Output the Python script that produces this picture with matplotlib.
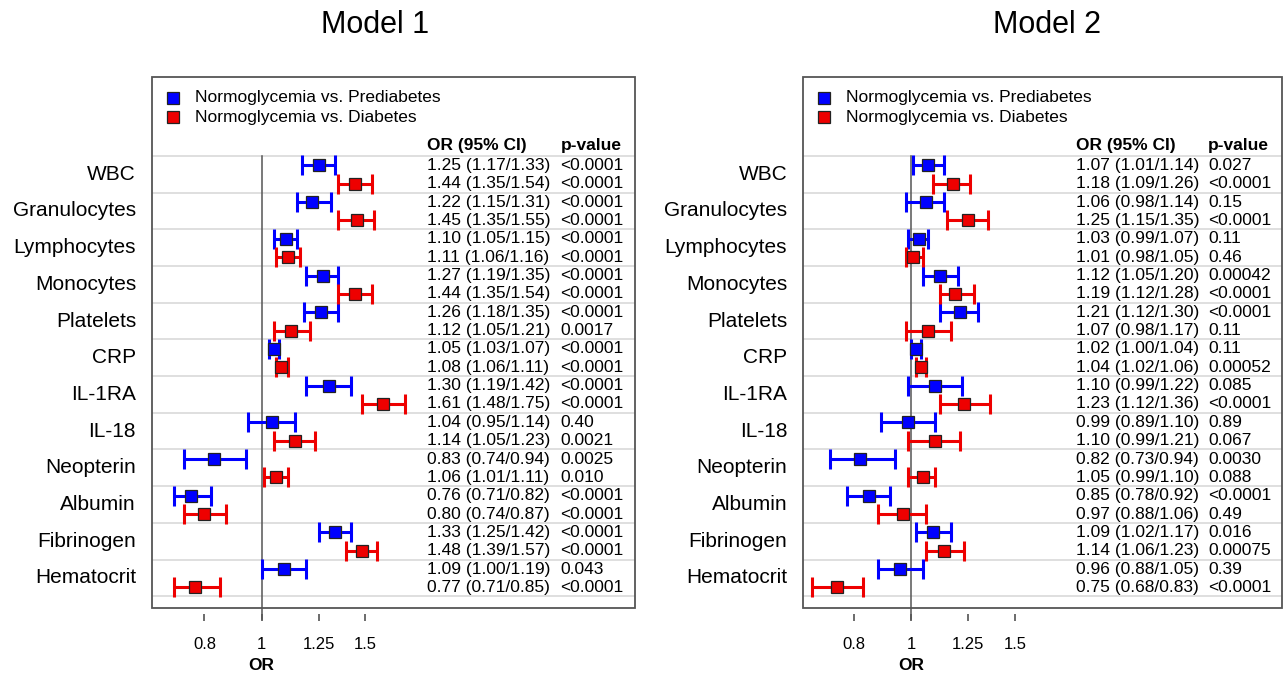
import numpy as np
import matplotlib
matplotlib.use("Agg")
from matplotlib import pyplot as plt
from matplotlib import transforms as mtrans
from matplotlib.patches import Rectangle

plt.rcParams['font.family'] = ['Liberation Sans', 'DejaVu Sans']

markers = ['WBC', 'Granulocytes', 'Lymphocytes', 'Monocytes', 'Platelets', 'CRP',
           'IL-1RA', 'IL-18', 'Neopterin', 'Albumin', 'Fibrinogen', 'Hematocrit']
legend_labels = ['Normoglycemia vs. Prediabetes', 'Normoglycemia vs. Diabetes']
xticks = [0.8, 1, 1.25, 1.5]

# Model 1: prediabetes (blue) / diabetes (red)
m1_pre_or = [1.25, 1.22, 1.10, 1.27, 1.26, 1.05, 1.30, 1.04, 0.83, 0.76, 1.33, 1.09]
m1_pre_lo = [1.17, 1.15, 1.05, 1.19, 1.18, 1.03, 1.19, 0.95, 0.74, 0.71, 1.25, 1.00]
m1_pre_hi = [1.33, 1.31, 1.15, 1.35, 1.35, 1.07, 1.42, 1.14, 0.94, 0.82, 1.42, 1.19]
m1_pre_p = ['<0.0001', '<0.0001', '<0.0001', '<0.0001', '<0.0001', '<0.0001',
            '<0.0001', '0.40', '0.0025', '<0.0001', '<0.0001', '0.043']
m1_dia_or = [1.44, 1.45, 1.11, 1.44, 1.12, 1.08, 1.61, 1.14, 1.06, 0.80, 1.48, 0.77]
m1_dia_lo = [1.35, 1.35, 1.06, 1.35, 1.05, 1.06, 1.48, 1.05, 1.01, 0.74, 1.39, 0.71]
m1_dia_hi = [1.54, 1.55, 1.16, 1.54, 1.21, 1.11, 1.75, 1.23, 1.11, 0.87, 1.57, 0.85]
m1_dia_p = ['<0.0001', '<0.0001', '<0.0001', '<0.0001', '0.0017', '<0.0001',
            '<0.0001', '0.0021', '0.010', '<0.0001', '<0.0001', '<0.0001']

# Model 2
m2_pre_or = [1.07, 1.06, 1.03, 1.12, 1.21, 1.02, 1.10, 0.99, 0.82, 0.85, 1.09, 0.96]
m2_pre_lo = [1.01, 0.98, 0.99, 1.05, 1.12, 1.00, 0.99, 0.89, 0.73, 0.78, 1.02, 0.88]
m2_pre_hi = [1.14, 1.14, 1.07, 1.20, 1.30, 1.04, 1.22, 1.10, 0.94, 0.92, 1.17, 1.05]
m2_pre_p = ['0.027', '0.15', '0.11', '0.00042', '<0.0001', '0.11',
            '0.085', '0.89', '0.0030', '<0.0001', '0.016', '0.39']
m2_dia_or = [1.18, 1.25, 1.01, 1.19, 1.07, 1.04, 1.23, 1.10, 1.05, 0.97, 1.14, 0.75]
m2_dia_lo = [1.09, 1.15, 0.98, 1.12, 0.98, 1.02, 1.12, 0.99, 0.99, 0.88, 1.06, 0.68]
m2_dia_hi = [1.26, 1.35, 1.05, 1.28, 1.17, 1.06, 1.36, 1.21, 1.10, 1.06, 1.23, 0.83]
m2_dia_p = ['<0.0001', '<0.0001', '0.46', '<0.0001', '0.11', '0.00052',
            '<0.0001', '0.067', '0.088', '0.49', '0.00075', '<0.0001']

BLUE = '#0000ff'
RED = '#ee0000'
GRID = '#d6d6d6'
FRAME = '#555555'


def draw_panel(ax, title, title_x, xlim, pre, dia):
    n = len(markers)
    ax.set_xscale('log')
    ax.set_xlim(xlim)
    ax.set_ylim(n + 0.32, -2.15)
    ax.set_yticks([])
    ax.minorticks_off()
    ax.set_xticks(xticks)
    ax.set_xticklabels([f'{t:g}' for t in xticks])
    ax.tick_params(axis='x', direction='out', length=5, width=1.1, color='#444444',
                   pad=12, labelsize=12)
    for s in ax.spines.values():
        s.set_visible(False)
    ax.spines['bottom'].set_position(('outward', 4))
    ax.add_patch(Rectangle((0, 0), 1, 1, transform=ax.transAxes, fill=False,
                           ec=FRAME, lw=1.3, clip_on=False, zorder=5))

    bt = mtrans.blended_transform_factory(ax.transAxes, ax.transData)
    bx = mtrans.blended_transform_factory(ax.transData, ax.transAxes)

    # group separators
    for k in range(n + 1):
        ax.plot([0, 1], [k, k], transform=bt, color=GRID, lw=1.1, zorder=1)
    ax.plot([1, 1], [0, n + 0.62], color='#555555', lw=1.1, zorder=2, clip_on=False)

    for k, name in enumerate(markers):
        ax.text(-0.033, k + 0.5, name, transform=bt, ha='right', va='center', fontsize=15)

    for (orv, lo, hi, pv), col, off in [(pre, BLUE, 0.26), (dia, RED, 0.76)]:
        orv = np.array(orv)
        lo = np.array(lo)
        hi = np.array(hi)
        ys = np.arange(n) + off
        ax.errorbar(orv, ys, xerr=[orv - lo, hi - orv], fmt='none', ecolor=col,
                    elinewidth=2.2, capsize=7, capthick=2.2, zorder=3)
        ax.plot(orv, ys, ls='none', marker='s', ms=8.5, mfc=col, mec='#222222',
                mew=0.9, zorder=4)
        for y, a, b, c, p in zip(ys, orv, lo, hi, pv):
            ax.text(0.569, y, f'{a:.2f} ({b:.2f}/{c:.2f})', transform=bt,
                    ha='left', va='center', fontsize=12.5)
            ax.text(0.846, y, p, transform=bt, ha='left', va='center', fontsize=12.5)

    ax.text(0.569, -0.27, 'OR (95% CI)', transform=bt, ha='left', va='center',
            fontsize=12.5, fontweight='bold')
    ax.text(0.846, -0.27, 'p-value', transform=bt, ha='left', va='center',
            fontsize=12.5, fontweight='bold')

    for lab, col, y in zip(legend_labels, [BLUE, RED], [-1.59, -1.05]):
        ax.plot([0.043], [y], transform=bt, ls='none', marker='s', ms=8, mfc=col,
                mec='#222222', mew=0.9)
        ax.text(0.089, y, lab, transform=bt, ha='left', va='center', fontsize=12.5)

    ax.text(1, -0.109, 'OR', transform=bx, ha='center', va='center',
            fontsize=12.5, fontweight='bold')
    fig.text(title_x, 0.963, title, ha='center', va='center', fontsize=22)


fig = plt.figure(figsize=(12.84, 6.73), dpi=100)
ax1 = fig.add_axes([152 / 1284, 65 / 673, 483 / 1284, 531 / 673])
ax2 = fig.add_axes([803 / 1284, 65 / 673, 479 / 1284, 531 / 673])

draw_panel(ax1, 'Model 1', 375 / 1284, (0.652, 4.30),
           (m1_pre_or, m1_pre_lo, m1_pre_hi, m1_pre_p),
           (m1_dia_or, m1_dia_lo, m1_dia_hi, m1_dia_p))
draw_panel(ax2, 'Model 2', 1047 / 1284, (0.656, 4.26),
           (m2_pre_or, m2_pre_lo, m2_pre_hi, m2_pre_p),
           (m2_dia_or, m2_dia_lo, m2_dia_hi, m2_dia_p))

fig.savefig('out.png', dpi=100)
